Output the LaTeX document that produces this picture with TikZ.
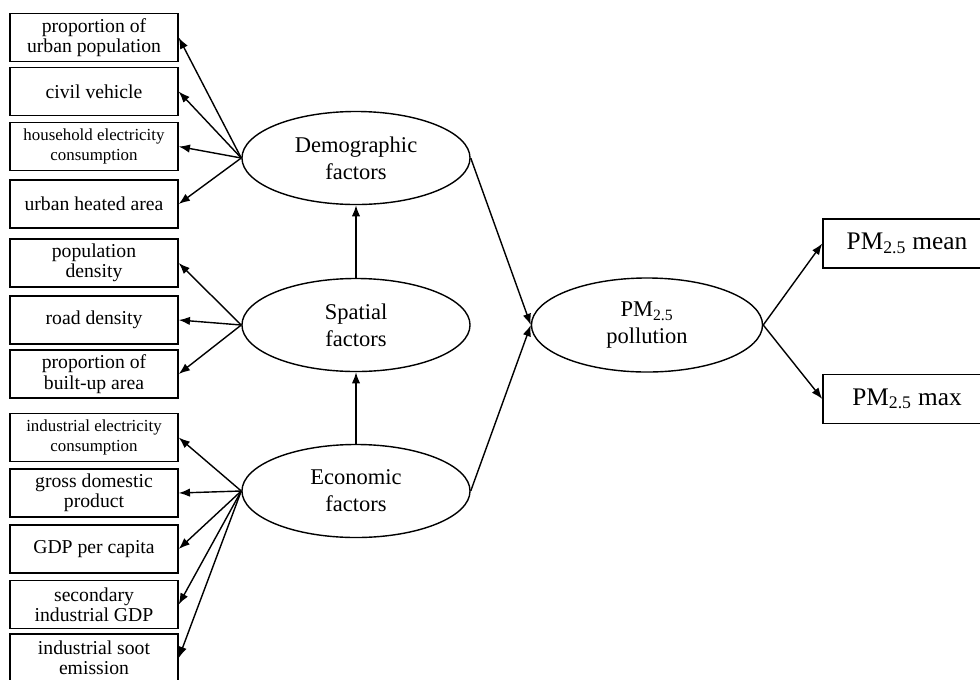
\documentclass[tikz,border=0pt]{standalone}
\usepackage{fontspec}
\setmainfont{Liberation Serif}
\usetikzlibrary{shapes.geometric,arrows.meta}
\tikzset{
  >={Latex[length=8pt,width=6pt]},
}
\tikzstyle{indicator}=[draw,line width=1pt,minimum width=4.2cm,minimum height=1.2cm,inner sep=1pt,align=center,font=\fontsize{14}{14.5}\selectfont]
\tikzstyle{smalltext}=[font=\fontsize{12}{14}\selectfont]
\tikzstyle{factor}=[draw,line width=1pt,ellipse,minimum width=5.7cm,minimum height=2.325cm,inner sep=0pt,align=center,font=\fontsize{16}{19}\selectfont]
\tikzstyle{outcome}=[draw,line width=1pt,minimum width=4.2cm,minimum height=1.225cm,align=center,font=\fontsize{18}{20}\selectfont]
\tikzstyle{link}=[line width=1pt,->]

\begin{document}
\begin{tikzpicture}[x=0.025cm,y=-0.025cm]
    \useasboundingbox (0,0) rectangle (980,679);
    % indicators of the three factors
    \node[indicator] (urbpop) at (94,37.5) {proportion of\\urban population};
    \node[indicator] (vehicle) at (94,91.5) {civil vehicle};
    \node[indicator,smalltext] (houseelec) at (94,146.5) {household electricity\\consumption};
    \node[indicator] (heated) at (94,204) {urban heated area};
    \node[indicator] (popdens) at (94,263) {population\\density};
    \node[indicator] (roaddens) at (94,320) {road density};
    \node[indicator] (builtup) at (94,374) {proportion of\\built-up area};
    \node[indicator,smalltext] (indelec) at (94,437.5) {industrial electricity\\consumption};
    \node[indicator] (gdp) at (94,493) {gross domestic\\product};
    \node[indicator] (gdppc) at (94,549) {GDP per capita};
    \node[indicator] (secgdp) at (94,604.5) {secondary\\industrial GDP};
    \node[indicator] (soot) at (94,658) {industrial soot\\emission};
    % latent factors
    \node[factor] (demo) at (356,158) {Demographic\\factors};
    \node[factor] (spatial) at (356,325) {Spatial\\factors};
    \node[factor] (econ) at (356,491) {Economic\\factors};
    \node[factor,minimum width=5.775cm,minimum height=2.35cm] (pollution) at (647,325) {PM\textsubscript{2.5}\\pollution};
    % measured outcomes
    \node[outcome] (pmmean) at (907,243.5) {PM\textsubscript{2.5} mean};
    \node[outcome] (pmmax) at (907,399) {PM\textsubscript{2.5} max};

    \draw[link] (demo.west) -- (urbpop.east);
    \draw[link] (demo.west) -- (vehicle.east);
    \draw[link] (demo.west) -- (houseelec.east);
    \draw[link] (demo.west) -- (heated.east);
    \draw[link] (spatial.west) -- (popdens.east);
    \draw[link] (spatial.west) -- (roaddens.east);
    \draw[link] (spatial.west) -- (builtup.east);
    \draw[link] (econ.west) -- (indelec.east);
    \draw[link] (econ.west) -- (gdp.east);
    \draw[link] (econ.west) -- (gdppc.east);
    \draw[link] (econ.west) -- (secgdp.east);
    \draw[link] (econ.west) -- (soot.east);
    \draw[link] (spatial.north) -- (demo.south);
    \draw[link] (econ.north) -- (spatial.south);
    \draw[link] (demo.east) -- (pollution.west);
    \draw[link] (econ.east) -- (pollution.west);
    \draw[link] (pollution.east) -- (pmmean.west);
    \draw[link] (pollution.east) -- (pmmax.west);
\end{tikzpicture}
\end{document}
